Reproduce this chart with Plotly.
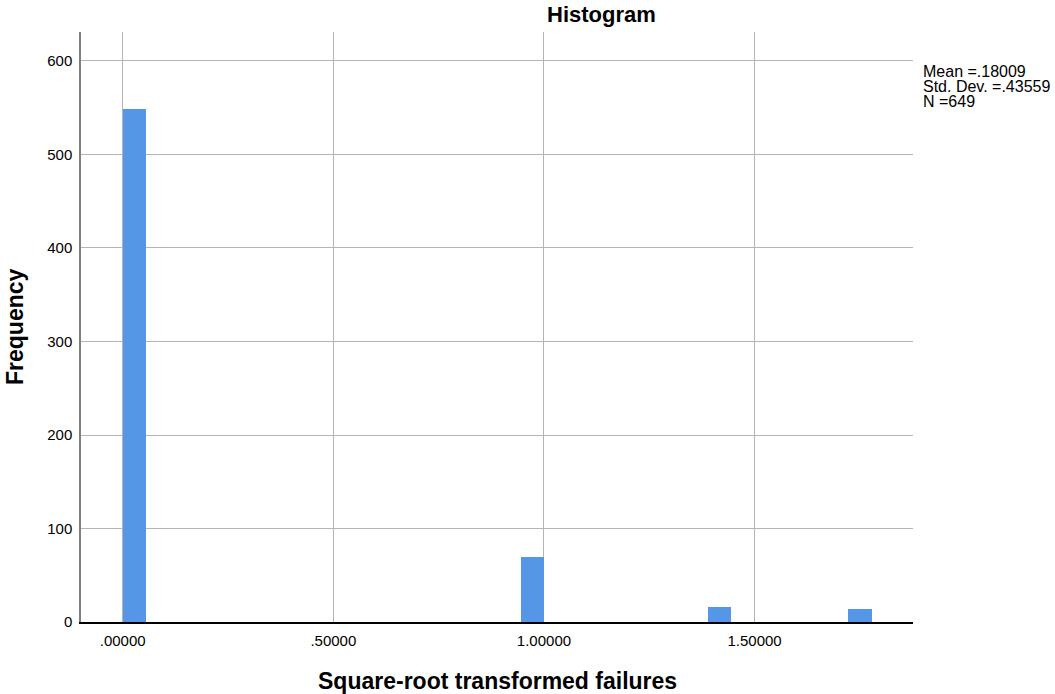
import math
import plotly.graph_objects as go

# distinct sqrt(failures) values and their counts
values = [0.0, 1.0, math.sqrt(2), math.sqrt(3)]
counts = [549, 70, 16, 14]

tick_vals = [0.0, 0.5, 1.0, 1.5]
tick_text = [".00000", ".50000", "1.00000", "1.50000"]

stats_lines = ["Mean =.18009", "Std. Dev. =.43559", "N =649"]

bin_w = 1 / 18
# right-closed bins starting at 0 (first bin also holds 0)
centers = []
for v in values:
    idx = max(0, math.ceil(v / bin_w - 1e-9) - 1)
    centers.append((idx + 0.5) * bin_w)

font = "Liberation Sans, Arial, sans-serif"

fig = go.Figure(go.Bar(
    x=centers, y=counts, width=bin_w,
    marker=dict(color="#5596e6", line=dict(width=0)),
    hoverinfo="skip"
))

annotations = [
    dict(text="<b>Histogram</b>", xref="paper", yref="paper",
         x=(601 - 81) / 832, y=1, yshift=18, xanchor="center", yanchor="middle",
         showarrow=False, font=dict(size=22, family=font)),
    dict(text="<b>Square-root transformed failures</b>", xref="paper", yref="paper",
         x=(497 - 81) / 832, y=0, yshift=-59, xanchor="center", yanchor="middle",
         showarrow=False, font=dict(size=23, family=font)),
    dict(text="<b>Frequency</b>", xref="paper", yref="paper",
         x=0, xshift=-66, y=(622 - 327) / 590, xanchor="center", yanchor="middle",
         textangle=-90, showarrow=False, font=dict(size=23, family=font)),
]
for i, line in enumerate(stats_lines):
    annotations.append(dict(
        text=line, xref="paper", yref="paper",
        x=1, xshift=8, y=1, yshift=-39 - 15 * i, xanchor="left", yanchor="middle",
        align="left", showarrow=False, font=dict(size=16, family=font)))

fig.update_layout(
    width=1055, height=694,
    margin=dict(l=81, r=142, t=32, b=72),
    plot_bgcolor="white", paper_bgcolor="white",
    font=dict(family=font, size=15, color="#000"),
    showlegend=False,
    bargap=0,
    xaxis=dict(
        range=[-0.099, 1.876],
        tickvals=tick_vals, ticktext=tick_text,
        showgrid=True, gridcolor="#b4b4b4", gridwidth=1,
        showline=True, linecolor="#000", linewidth=1.5,
        zeroline=False, ticks="", ticklabelstandoff=4,
    ),
    yaxis=dict(
        range=[0, 631],
        tickvals=[0, 100, 200, 300, 400, 500, 600],
        showgrid=True, gridcolor="#b4b4b4", gridwidth=1,
        showline=True, linecolor="#808080", linewidth=1.5,
        zeroline=False, ticks="", ticklabelstandoff=4,
    ),
    annotations=annotations,
)

# drop the default 8px body margin so the figure fills the window
fig.write_html("out.html", config={"displayModeBar": False},
               post_script="document.body.style.margin='0';")
